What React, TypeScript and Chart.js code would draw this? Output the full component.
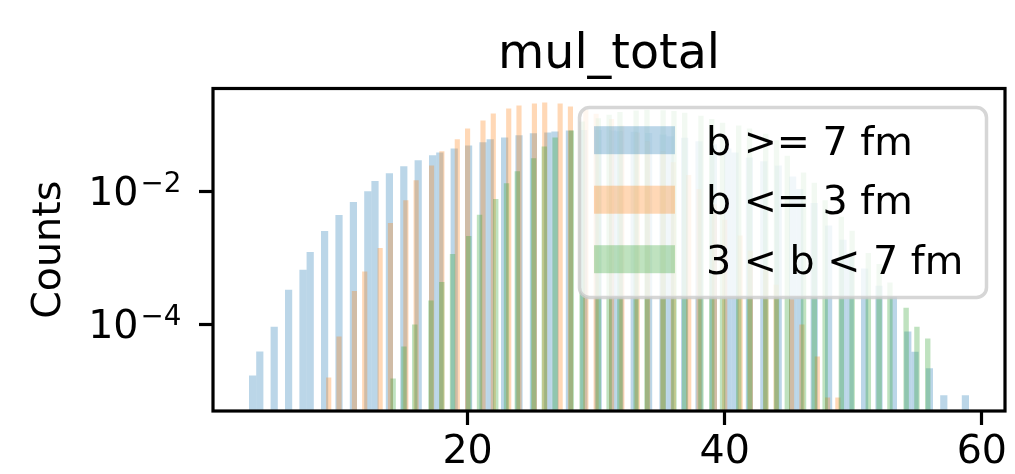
import { useEffect, useRef } from 'react';
import { Chart, registerables } from 'chart.js';

Chart.register(...registerables);

const TITLE = 'mul_total';
const Y_LABEL = 'Counts';
const SERIES_LABELS = ['b >= 7 fm', 'b <= 3 fm', '3 < b < 7 fm'];
const SERIES_COLORS = ['rgba(31,119,180,0.3)', 'rgba(255,127,14,0.3)', 'rgba(44,160,44,0.3)'];
const N_BINS = 100;

// multiplicities and normalised counts (density) per class
const MUL_PERIPHERAL = [3, 4, 5, 6, 7, 8, 9, 10, 11, 12, 13, 14, 15, 16, 17, 18, 19, 20, 21, 22, 23, 24, 25, 26, 27, 28, 29, 30, 31, 32, 33, 34, 35, 36, 37, 38, 39, 40, 41, 42, 43, 44, 45, 46, 47, 48, 49, 50, 51, 52, 53, 54, 55, 56, 57, 58, 59];
const DENS_PERIPHERAL = [1.72e-5, 3.95e-5, 9.3e-5, 3.35e-4, 6.7e-4, 1.24e-3, 2.57e-3, 4.47e-3, 7.0e-3, 0.0102, 0.0145, 0.019, 0.0243, 0.0299, 0.0355, 0.039, 0.045, 0.05, 0.0556, 0.062, 0.066, 0.071, 0.076, 0.0785, 0.081, 0.084, 0.085, 0.085, 0.084, 0.082, 0.08, 0.077, 0.073, 0.069, 0.065, 0.058, 0.052, 0.045, 0.039, 0.033, 0.029, 0.025, 0.017, 0.011, 0.0068, 0.0031, 0.0019, 0.0012, 0.0007, 3.85e-4, 2.7e-4, 7.9e-5, 3.9e-5, 2.2e-5, 8.6e-6, 0, 8.6e-6];

const MUL_CENTRAL = [9, 10, 11, 12, 13, 14, 15, 16, 17, 18, 19, 20, 21, 22, 23, 24, 25, 26, 27, 28, 29, 30, 31, 32, 33, 34, 35, 36, 37, 38, 39, 40, 41, 42, 43, 44, 45, 46, 47, 48, 49];
const DENS_CENTRAL = [1.6e-5, 6.6e-5, 3.2e-4, 6.3e-4, 1.43e-3, 3.4e-3, 7.5e-3, 0.015, 0.025, 0.041, 0.062, 0.09, 0.119, 0.151, 0.18, 0.2, 0.214, 0.221, 0.214, 0.193, 0.172, 0.15, 0.125, 0.1, 0.078, 0.058, 0.041, 0.028, 0.018, 0.011, 0.0065, 0.0038, 0.0022, 0.0013, 7e-4, 4e-4, 2.4e-4, 1.0e-4, 3.3e-5, 8e-6, 8e-6];

const MUL_MID = [14, 15, 16, 17, 18, 19, 20, 21, 22, 23, 24, 25, 26, 27, 28, 29, 30, 31, 32, 33, 34, 35, 36, 37, 38, 39, 40, 41, 42, 43, 44, 45, 46, 47, 48, 49, 50, 51, 52, 53, 54, 55, 56];
const DENS_MID = [1.55e-5, 4.7e-5, 1.0e-4, 2.3e-4, 4.4e-4, 1.16e-3, 2.16e-3, 4.5e-3, 7.8e-3, 0.0135, 0.0204, 0.032, 0.048, 0.066, 0.084, 0.115, 0.128, 0.145, 0.16, 0.168, 0.172, 0.17, 0.165, 0.155, 0.14, 0.125, 0.11, 0.1, 0.09, 0.075, 0.06, 0.035, 0.0195, 0.0137, 0.0075, 0.0042, 0.0026, 0.0012, 8.2e-4, 4.3e-4, 1.8e-4, 9.3e-5, 6.2e-5];

const X_TICKS = [20, 40, 60];
const Y_TICKS = [1e-2, 1e-4];
const Y_TICK_EXPONENTS = ['\u22122', '\u22124'];
const X_RANGE = [0.2, 61.8];
const Y_RANGE = [5.0e-6, 0.36];

const FONT = '"DejaVu Sans", "Liberation Sans", sans-serif';
const FS = 39.6;

function histogram(mults: number[], dens: number[]) {
  const lo = Math.min(...mults);
  const hi = Math.max(...mults);
  const w = (hi - lo) / N_BINS;
  const vals: (number | null)[] = new Array(N_BINS).fill(null);
  mults.forEach((k, j) => {
    const idx = Math.min(N_BINS - 1, Math.floor(((k - lo) * N_BINS) / (hi - lo)));
    if (dens[j] > 0) vals[idx] = dens[j];
  });
  return vals.map((y, i) => ({ x: lo + (i + 0.5) * w, y }));
}

const frameAndLegend = {
  id: 'frameAndLegend',
  afterDatasetsDraw(chart: any) {
    const { ctx, chartArea: a } = chart;
    ctx.save();
    ctx.strokeStyle = '#000';
    ctx.lineWidth = 3.2;
    ctx.strokeRect(a.left, a.top, a.right - a.left, a.bottom - a.top);

    // y tick labels as 10 with superscript exponent
    const ys = chart.scales.y;
    ctx.fillStyle = '#000';
    Y_TICKS.forEach((v, i) => {
      const py = ys.getPixelForValue(v);
      ctx.textBaseline = 'alphabetic';
      ctx.textAlign = 'right';
      ctx.font = `${FS}px ${FONT}`;
      ctx.fillText('10', 138.5, py + 13.5);
      ctx.textAlign = 'left';
      ctx.font = `${FS * 0.7}px ${FONT}`;
      ctx.fillText(Y_TICK_EXPONENTS[i], 140.5, py + 0.3);
    });

    // legend box
    const L = { left: 579.5, top: 107.5, right: 986.5, bottom: 297.5, r: 10 };
    ctx.beginPath();
    ctx.moveTo(L.left + L.r, L.top);
    ctx.lineTo(L.right - L.r, L.top);
    ctx.arcTo(L.right, L.top, L.right, L.top + L.r, L.r);
    ctx.lineTo(L.right, L.bottom - L.r);
    ctx.arcTo(L.right, L.bottom, L.right - L.r, L.bottom, L.r);
    ctx.lineTo(L.left + L.r, L.bottom);
    ctx.arcTo(L.left, L.bottom, L.left, L.bottom - L.r, L.r);
    ctx.lineTo(L.left, L.top + L.r);
    ctx.arcTo(L.left, L.top, L.left + L.r, L.top, L.r);
    ctx.closePath();
    ctx.fillStyle = 'rgba(255,255,255,0.8)';
    ctx.fill();
    ctx.strokeStyle = 'rgba(204,204,204,0.8)';
    ctx.lineWidth = 3.5;
    ctx.stroke();

    const rowCenters = [140.2, 199.7, 259.2];
    ctx.font = `${FS}px ${FONT}`;
    ctx.textBaseline = 'alphabetic';
    ctx.textAlign = 'left';
    chart.data.datasets.forEach((ds: any, i: number) => {
      const cy = rowCenters[i];
      ctx.fillStyle = ds.backgroundColor;
      ctx.fillRect(594, cy - 14, 81, 28);
      ctx.fillStyle = '#000';
      ctx.fillText(ds.label, 706, cy + 14.3);
    });
    ctx.restore();
  },
};

export default function App() {
  const ref = useRef<HTMLCanvasElement>(null);
  useEffect(() => {
    Chart.defaults.font.family = FONT;
    Chart.defaults.color = '#000';
    const series = [
      [MUL_PERIPHERAL, DENS_PERIPHERAL],
      [MUL_CENTRAL, DENS_CENTRAL],
      [MUL_MID, DENS_MID],
    ];
    const axisIds = ['x', 'x2', 'x3'];
    const datasets = series.map(([m, d], i) => ({
      label: SERIES_LABELS[i],
      data: histogram(m, d),
      backgroundColor: SERIES_COLORS[i],
      borderWidth: 0,
      barPercentage: 1,
      categoryPercentage: 1,
      grouped: false,
      inflateAmount: 0,
      xAxisID: axisIds[i],
      order: 3 - i,
    }));
    const hiddenX = {
      type: 'linear',
      display: false,
      min: X_RANGE[0],
      max: X_RANGE[1],
      offset: false,
      afterBuildTicks: (s: any) => {
        s.ticks = X_TICKS.map((v) => ({ value: v }));
      },
    };
    const chart = new Chart(ref.current!, {
      type: 'bar',
      data: { datasets } as any,
      plugins: [frameAndLegend],
      options: {
        responsive: false,
        animation: false,
        events: [],
        layout: { padding: { left: 0, right: 10, top: 0, bottom: 0 } },
        plugins: {
          legend: { display: false },
          tooltip: { enabled: false },
          title: {
            display: true,
            text: TITLE,
            fullSize: false,
            color: '#000',
            font: { size: 47.5, weight: 'normal', family: FONT },
            padding: { top: 27, bottom: 4.5 },
          },
        },
        scales: {
          x: {
            type: 'linear',
            min: X_RANGE[0],
            max: X_RANGE[1],
            offset: false,
            afterBuildTicks: (s: any) => {
              s.ticks = X_TICKS.map((v) => ({ value: v }));
            },
            afterFit: (s: any) => {
              s.height = 63;
            },
            ticks: {
              autoSkip: false,
              maxRotation: 0,
              color: '#000',
              padding: 4,
              font: { size: FS, family: FONT },
              callback: (v: any) => String(v),
            },
            grid: {
              offset: false,
              drawOnChartArea: false,
              drawTicks: true,
              tickLength: 14,
              tickWidth: 3.2,
              tickColor: '#000',
            },
            border: { display: false },
          },
          x2: hiddenX,
          x3: hiddenX,
          y: {
            type: 'logarithmic',
            min: Y_RANGE[0],
            max: Y_RANGE[1],
            afterBuildTicks: (s: any) => {
              s.ticks = Y_TICKS.map((v) => ({ value: v }));
            },
            afterFit: (s: any) => {
              s.width = 213;
            },
            ticks: {
              color: '#000',
              padding: 22,
              font: { size: FS, family: FONT },
              callback: () => '',
            },
            grid: {
              drawOnChartArea: false,
              drawTicks: true,
              tickLength: 14,
              tickWidth: 3.2,
              tickColor: '#000',
            },
            border: { display: false },
            title: {
              display: true,
              text: Y_LABEL,
              color: '#000',
              font: { size: FS, family: FONT },
              padding: { top: 26, bottom: 0 },
            },
          },
        },
      } as any,
    });
    return () => chart.destroy();
  }, []);
  return (
    <div style={{ position: 'fixed', left: 0, top: 0, width: 1015, height: 474, background: '#fff' }}>
      <canvas ref={ref} width={1015} height={474} style={{ display: 'block' }} />
    </div>
  );
}
